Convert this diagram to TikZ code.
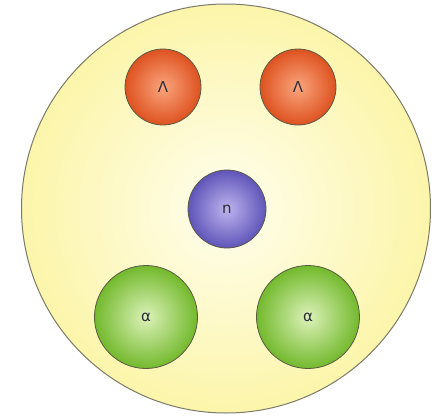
\documentclass[tikz,border=0pt]{standalone}
\usepackage{fontspec}
\newfontfamily\lblfont{DejaVu Sans}
\definecolor{yelout}{RGB}{252,245,170}
\definecolor{yelin}{RGB}{255,254,238}
\definecolor{redout}{RGB}{222,82,32}
\definecolor{redin}{RGB}{250,165,125}
\definecolor{bluout}{RGB}{95,85,185}
\definecolor{bluin}{RGB}{190,180,238}
\definecolor{grnout}{RGB}{115,185,45}
\definecolor{grnin}{RGB}{220,242,185}
\definecolor{rimcol}{RGB}{90,90,70}
\definecolor{txtcol}{RGB}{45,45,55}
\tikzset{
  ball/.style={circle, draw=rimcol, line width=0.8pt, inner sep=0pt, shading=radial, font=\lblfont\fontsize{15}{15}\selectfont, text=txtcol},
  lam/.style={ball, minimum size=76pt, inner color=redin, outer color=redout},
  neu/.style={ball, minimum size=78pt, inner color=bluin, outer color=bluout},
  alp/.style={ball, minimum size=103pt, inner color=grnin, outer color=grnout},
  shell/.style={circle, draw=rimcol!80, line width=1pt, inner sep=0pt, shading=radial, inner color=yelin, outer color=yelout, minimum size=409pt}
}
\begin{document}
\begin{tikzpicture}[x=1pt,y=-1pt]
\useasboundingbox (0,0) rectangle (432,418);
\fill[white] (0,0) rectangle (432,418);
\node[shell] (nuc) at (226,208.5) {};
\node[lam] (l1) at (163,87) {Λ};
\node[lam] (l2) at (298,87) {Λ};
\node[neu] (n) at (227,209) {n};
\node[alp] (a1) at (146,317) {α};
\node[alp] (a2) at (308,317) {α};
\end{tikzpicture}
\end{document}
